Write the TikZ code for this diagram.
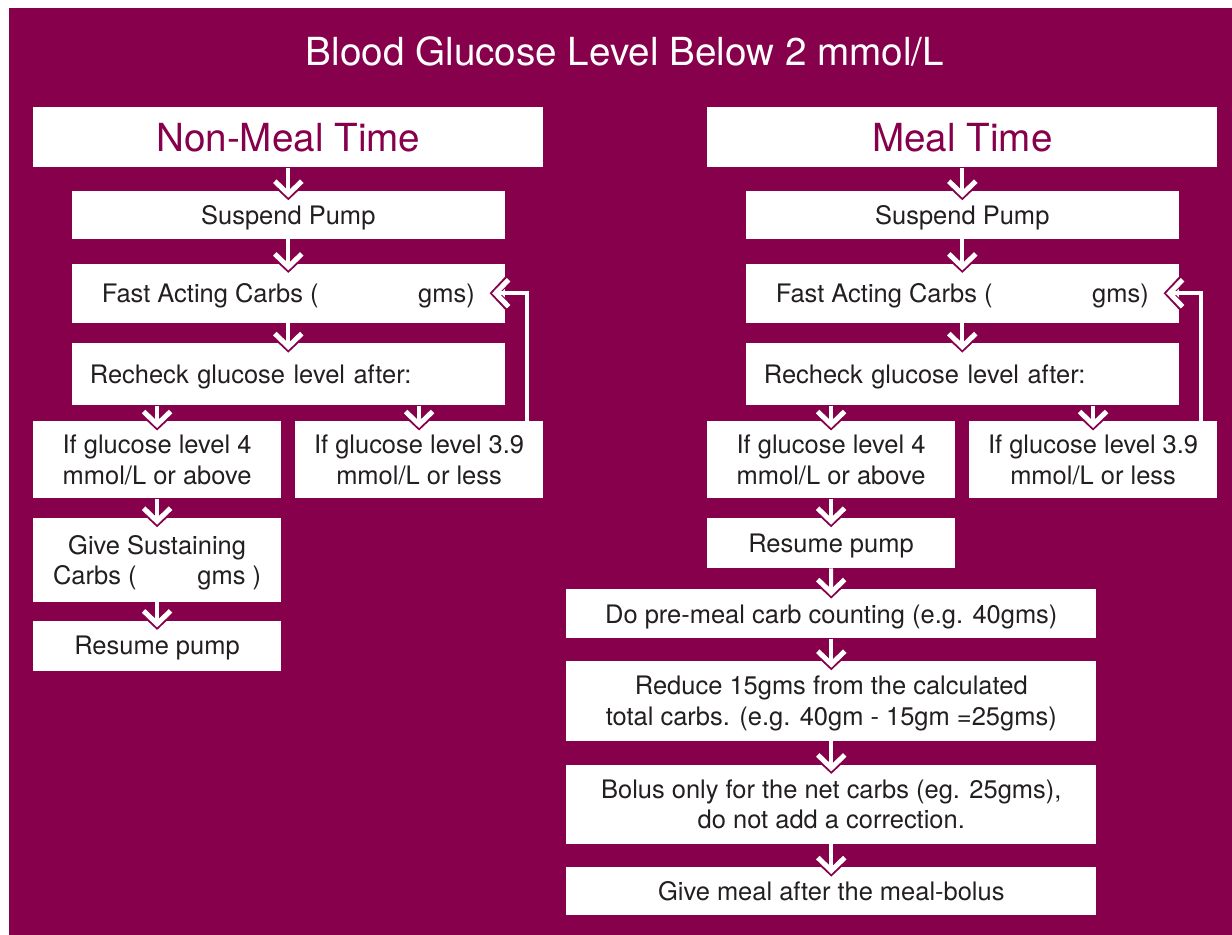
\documentclass[tikz,border=0pt]{standalone}
\usepackage{fontspec}
\setmainfont{TeX Gyre Heros}
\usetikzlibrary{positioning, arrows.meta}
\definecolor{berry}{RGB}{134,0,75}
\definecolor{ink}{RGB}{35,31,32}
\tikzset{
  tipw/.tip={Straight Barb[length=0.26cm, width=0.54cm, line width=0.1cm]},
  tipp/.tip={Straight Barb[length=0.3cm, width=0.64cm, line width=0.16cm]},
  box/.style={fill=white, text=ink, inner sep=0pt, text depth=0pt, align=center, font=\fontsize{14.5}{17.5}\selectfont},
  head/.style={box, text=berry, minimum width=10.2cm, minimum height=1.2cm, font=\fontsize{22}{26}\selectfont},
  stepbox/.style={box, minimum width=8.66cm},
  halfbox/.style={box, minimum width=4.95cm},
  longbox/.style={box, minimum width=10.6cm},
  flow/.style={draw=white, line width=0.08cm, -tipw, shorten >=-0.14cm,
    preaction={draw=berry, -tipp, shorten >=-0.19cm}},
  back/.style={draw=white, line width=0.07cm, -tipw, shorten >=-0.26cm,
    preaction={draw=berry, -tipp, shorten >=-0.31cm}},
}

\begin{document}
\begin{tikzpicture}[x=0.02cm, y=-0.02cm]
  \useasboundingbox (0,0) rectangle (1232,935);
  \fill[berry] (9,8) rectangle (1232,935);
  \node[anchor=base, text=white, font=\fontsize{22}{26}\selectfont] (title) at (625,66) {Blood Glucose Level Below 2 mmol/L};

  % non-meal time
  \node[head, anchor=north west] (nmt) at (33,107) {Non-Meal Time};
  \node[stepbox, minimum height=0.96cm, below=0.46cm of nmt] (lsus) {Suspend Pump};
  \node[stepbox, minimum height=1.18cm, below=0.48cm of lsus] (lfast) {\makebox[7.46cm]{Fast Acting Carbs (\hfill gms)}};
  \node[stepbox, minimum height=1.24cm, below=0.4cm of lfast, text width=7.94cm, align=left] (lrec) {Recheck glucose level after:};
  \node[halfbox, minimum height=1.54cm, anchor=north west] (lhi) at (33,421) {If glucose level 4\\mmol/L or above};
  \node[halfbox, minimum height=1.54cm, anchor=north west] (llo) at (295,421) {If glucose level 3.9\\mmol/L or less};
  \node[halfbox, minimum height=1.68cm, below=0.38cm of lhi] (lsust) {Give Sustaining\\\makebox[4.16cm]{Carbs (\hfill gms )}};
  \node[halfbox, minimum height=1cm, below=0.36cm of lsust] (lres) {Resume pump};

  \draw[flow] (nmt) -- (lsus);
  \draw[flow] (lsus) -- (lfast);
  \draw[flow] (lfast) -- (lrec);
  \draw[flow] (lrec.south -| lhi) -- (lhi);
  \draw[flow] (lrec.south -| llo) -- (llo);
  \draw[flow] (lhi) -- (lsust);
  \draw[flow] (lsust) -- (lres);
  \draw[back] ([xshift=-0.32cm]llo.north east) |- (lfast.east);

  % meal time
  \node[head, anchor=north west] (mt) at (707,107) {Meal Time};
  \node[stepbox, minimum height=0.96cm, below=0.46cm of mt] (rsus) {Suspend Pump};
  \node[stepbox, minimum height=1.18cm, below=0.48cm of rsus] (rfast) {\makebox[7.46cm]{Fast Acting Carbs (\hfill gms)}};
  \node[stepbox, minimum height=1.24cm, below=0.4cm of rfast, text width=7.94cm, align=left] (rrec) {Recheck glucose level after:};
  \node[halfbox, minimum height=1.54cm, anchor=north west] (rhi) at (707,421) {If glucose level 4\\mmol/L or above};
  \node[halfbox, minimum height=1.54cm, anchor=north west] (rlo) at (969,421) {If glucose level 3.9\\mmol/L or less};
  \node[halfbox, minimum height=1cm, below=0.38cm of rhi] (rres) {Resume pump};
  \node[longbox, minimum height=0.98cm, anchor=north west] (rpre) at (566,589) {Do pre-meal carb counting (e.g. 40gms)};
  \node[longbox, minimum height=1.6cm, below=0.44cm of rpre] (rred) {Reduce 15gms from the calculated\\total carbs. (e.g. 40gm - 15gm =25gms)};
  \node[longbox, minimum height=1.58cm, below=0.46cm of rred] (rbol) {Bolus only for the net carbs (eg. 25gms),\\do not add a correction.};
  \node[longbox, minimum height=0.96cm, below=0.46cm of rbol] (rmeal) {Give meal after the meal-bolus};

  \draw[flow] (mt) -- (rsus);
  \draw[flow] (rsus) -- (rfast);
  \draw[flow] (rfast) -- (rrec);
  \draw[flow] (rrec.south -| rhi) -- (rhi);
  \draw[flow] (rrec.south -| rlo) -- (rlo);
  \draw[flow] (rhi) -- (rres);
  \draw[flow] (rres) -- (rpre);
  \draw[flow] (rpre) -- (rred);
  \draw[flow] (rred) -- (rbol);
  \draw[flow] (rbol) -- (rmeal);
  \draw[back] ([xshift=-0.32cm]rlo.north east) |- (rfast.east);
\end{tikzpicture}
\end{document}
